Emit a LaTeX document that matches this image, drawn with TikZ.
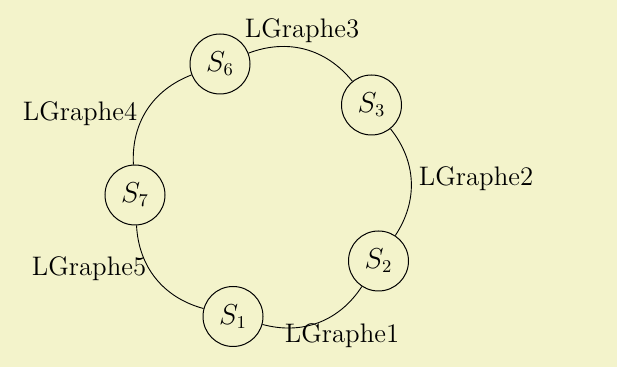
\documentclass[tikz,border=0pt]{standalone}
\definecolor{bgyellow}{RGB}{243,243,203}
\tikzset{
  vertex/.style={draw, circle, minimum size=30pt, inner sep=0pt, line width=0.5pt},
  edgeline/.style={draw, line width=0.45pt},
  lbl/.style={inner sep=0pt}
}
\begin{document}
\begin{tikzpicture}[x=0.5pt,y=-0.5pt]
\fontsize{13.4}{16}\selectfont
\fill[bgyellow] (0,0) rectangle (617,367);
\useasboundingbox (0,0) rectangle (617,367);
\node[vertex] (s6) at (220,64) {$S_6$};
\node[vertex] (s3) at (371.5,105) {$S_3$};
\node[vertex] (s2) at (378.5,261) {$S_2$};
\node[vertex] (s1) at (233,316.5) {$S_1$};
\node[vertex] (s7) at (135,195) {$S_7$};
\draw[edgeline] (s1) to[bend right=36] (s2);
\draw[edgeline] (s2) to[bend right=36] (s3);
\draw[edgeline] (s3) to[bend right=36] (s6);
\draw[edgeline] (s6) to[bend right=36] (s7);
\draw[edgeline] (s7) to[bend right=36] (s1);
\node[lbl] (l1) at (342,336) {LGraphe1};
\node[lbl] (l2) at (476,179) {LGraphe2};
\node[lbl] (l3) at (302,31) {LGraphe3};
\node[lbl] (l4) at (80,114) {LGraphe4};
\node[lbl] (l5) at (89,269) {LGraphe5};
\end{tikzpicture}
\end{document}
